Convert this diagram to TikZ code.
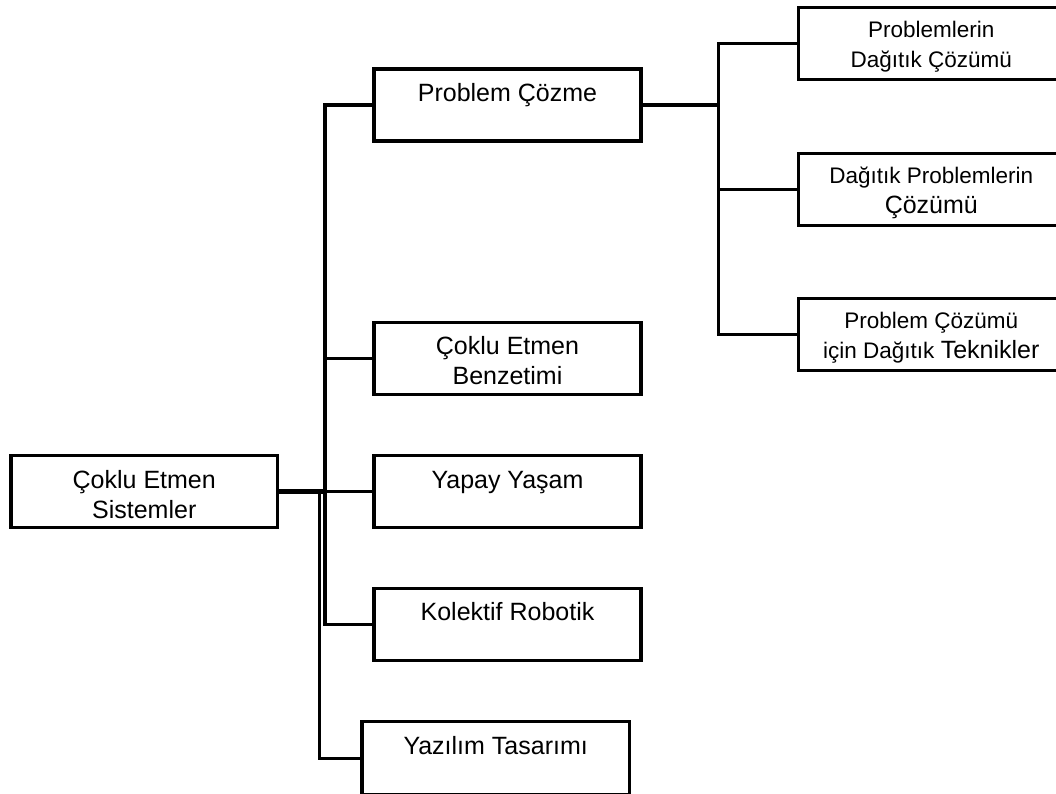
\documentclass[tikz,border=0pt]{standalone}
\usepackage{fontspec}
\setmainfont{Liberation Sans}
% box contents: [height]{width}{font size}{first baseline from top}{text}
\newcommand{\boxtext}[5][72pt]{%
  \parbox[t][#1][t]{#2}{\fontsize{#3}{30}\selectfont\centering\rule{0pt}{#4}#5}}
\newcommand{\bigword}[1]{{\fontsize{25}{30}\selectfont #1}}
\begin{document}
\begin{tikzpicture}[x=1pt,y=-1pt,
  box/.style={draw, line width=3.3pt, fill=white, inner sep=0pt, outer sep=0pt, anchor=north west},
  link/.style={line width=3.2pt, line join=miter},
  thinlink/.style={line width=2.6pt},
  heavylink/.style={line width=4.6pt}]
\useasboundingbox (0,0) rectangle (1056,793);
\clip (0,0) rectangle (1056,793);

% vertical buses
\coordinate (busA) at (325,0);
\coordinate (busB) at (319.5,0);
\coordinate (busC) at (718.3,0);

% root
\node[box] (root) at (11,455.5) {\boxtext{266.5pt}{25}{32.5pt}{Çoklu Etmen\\Sistemler}};

% second level
\node[box] (pc)    at (374,69)    {\boxtext{267pt}{25}{32.5pt}{Problem Çözme}};
\node[box] (benz)  at (374,322.3) {\boxtext{267pt}{25}{32.5pt}{Çoklu Etmen\\Benzetimi}};
\node[box] (yapay) at (374,455.5) {\boxtext{267pt}{25}{32.5pt}{Yapay Yaşam}};
\node[box] (kol)   at (374,588.3) {\boxtext{267pt}{25}{32.5pt}{Kolektif Robotik}};
\node[box] (yaz)   at (362,721.7) {\boxtext[73pt]{267.3pt}{25}{32.5pt}{Yazılım Tasarımı}};

% third level
\node[box] (r1) at (798.3,7.7)   {\boxtext{266pt}{22.5}{30pt}{Problemlerin\\Dağıtık Çözümü}};
\node[box] (r2) at (798.3,153.3) {\boxtext{266pt}{22.5}{30pt}{Dağıtık Problemlerin\\\bigword{Çözümü}}};
\node[box] (r3) at (798.3,298.3) {\boxtext{266pt}{22.5}{30pt}{Problem Çözümü\\için Dağıtık \bigword{Teknikler}}};

% connectors on the left
\draw[link] (pc.west) -- (pc.west -| busA) -- (kol.west -| busA) -- (kol.west);
\draw[thinlink] (benz.west -| busA) -- (benz.west);
\draw[thinlink] (root.east -| busA) -- (yapay.west);
\draw[heavylink] (root.east) -- (root.east -| busA);
\draw[link] (root.east -| busB) -- (yaz.west -| busB) -- (yaz.west);

% connectors on the right
\draw[link] (pc.east) -- (pc.east -| busC);
\draw[link] (r1.west) -- (r1.west -| busC) -- (r3.west -| busC) -- (r3.west);
\draw[link] (r2.west -| busC) -- (r2.west);
\end{tikzpicture}
\end{document}
